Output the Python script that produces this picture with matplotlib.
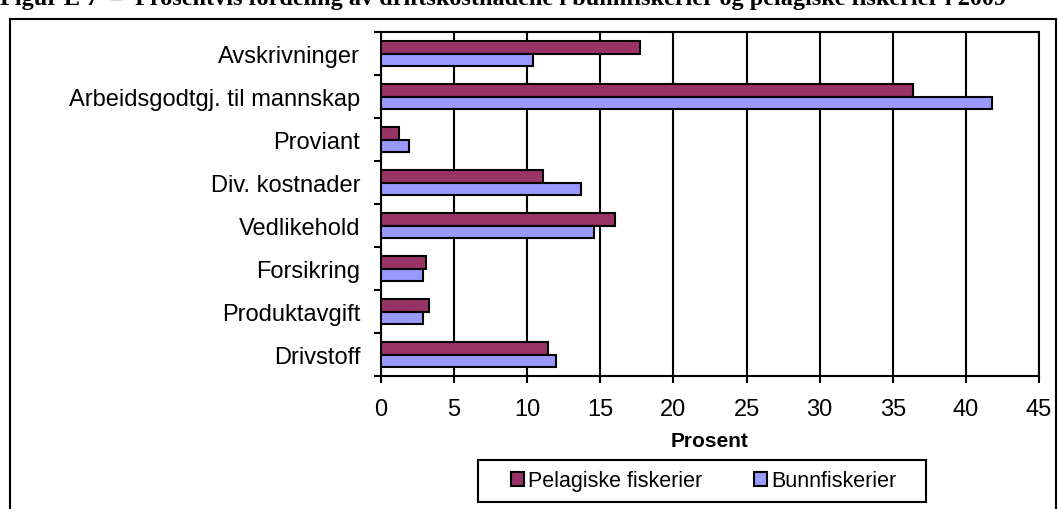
import numpy as np
import matplotlib.pyplot as plt
from matplotlib.patches import Rectangle

# Data .......................................................................
categories = ["Avskrivninger", "Arbeidsgodtgj. til mannskap", "Proviant", "Div. kostnader",
              "Vedlikehold", "Forsikring", "Produktavgift", "Drivstoff"]
pelagiske = [17.7, 36.4, 1.2, 11.1, 16.0, 3.1, 3.3, 11.4]
bunn = [10.4, 41.8, 1.9, 13.7, 14.6, 2.9, 2.9, 12.0]
x_ticks = [0, 5, 10, 15, 20, 25, 30, 35, 40, 45]

plt.rcParams["font.family"] = ["Liberation Sans", "DejaVu Sans"]

fig = plt.figure(figsize=(10.59, 5.10), dpi=100)
ax = fig.add_axes([381/1059, 1 - 377/510, (1039-381)/1059, (377-33)/510])

# Outer frame and title (cut off at the top, as in the source page)
fig.patches.append(Rectangle((10/1059, -0.1), (1056-10)/1059, 1.1 - 20/510,
                             transform=fig.transFigure, fill=False, edgecolor="black", lw=1.5))
fig.text(0.0, 1 - 5/510, "Figur E 7  \u2013  Prosentvis fordeling av driftskostnadene i bunnfiskerier og pelagiske fiskerier i 2009",
         family="Liberation Serif", fontweight="bold", fontsize=17.5, ha="left", va="baseline")

# Bars
y = np.arange(len(categories))[::-1]
h = 0.29
ax.barh(y + h/2, pelagiske, height=h, color="#993366", edgecolor="black", lw=1.5,
        label="Pelagiske fiskerier", zorder=3)
ax.barh(y - h/2, bunn, height=h, color="#9999FF", edgecolor="black", lw=1.5,
        label="Bunnfiskerier", zorder=3)

ax.set_xlim(0, 45)
ax.set_ylim(-0.5, len(categories) - 0.5)
ax.set_xticks(x_ticks)
ax.set_yticks(y)
ax.set_yticklabels(categories)
ax.set_yticks(np.arange(-0.5, len(categories)), minor=True)
ax.tick_params(axis="y", which="major", length=0, pad=15, labelsize=17)
ax.tick_params(axis="y", which="minor", length=5, width=1.5, direction="out")
ax.tick_params(axis="x", length=5, width=1.5, labelsize=17, pad=11)
ax.grid(axis="x", color="black", lw=1.5, zorder=0)
for s in ax.spines.values():
    s.set_linewidth(1.5)
ax.set_xlabel("Prosent", fontweight="bold", fontsize=15, labelpad=8)

# Legend with its own box
fig.patches.append(Rectangle((478/1059, 1 - 503/510), (926-478)/1059, 42/510,
                             transform=fig.transFigure, fill=False, edgecolor="black", lw=1.5))
fig.legend(loc="center", bbox_to_anchor=(704/1059, 1 - 482/510), ncol=2, fontsize=15.5,
           frameon=False, handlelength=0.6, handleheight=0.6,
           handletextpad=0.2, columnspacing=2.4)

plt.savefig("out.png", dpi=100)
